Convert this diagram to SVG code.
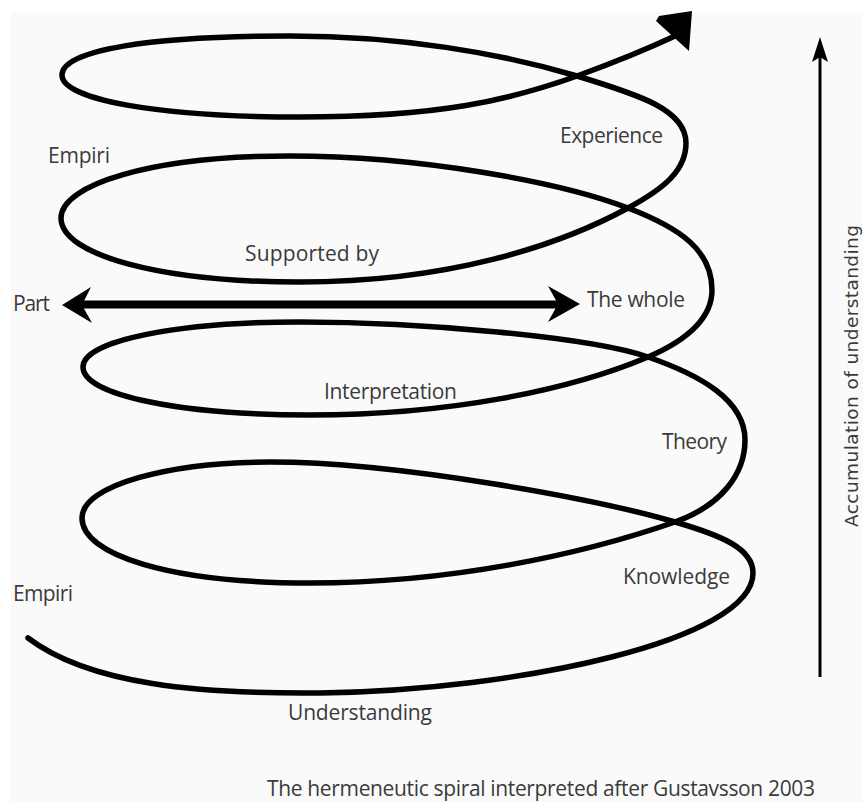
<svg xmlns="http://www.w3.org/2000/svg" width="863" height="802" viewBox="0 0 863 802">
  <style>
    .lbl { font-family: "Open Sans", "Noto Sans", "DejaVu Sans", sans-serif; font-size: 21px; fill: #3a3a3a; }
    .vlbl { font-family: "DejaVu Sans", "Noto Sans", sans-serif; font-size: 18.5px; fill: #3a3a3a; }
    .spiral { fill: none; stroke: #000; stroke-width: 5.5; stroke-linecap: round; stroke-linejoin: round; }
    .shaft { fill: none; stroke: #000; stroke-width: 8; }
    .vshaft { fill: none; stroke: #000; stroke-width: 3; }
    .head { fill: #000; stroke: none; }
  </style>
  <rect x="0" y="0" width="863" height="802" fill="#ffffff"/>
  <rect x="11" y="12" width="852" height="790" fill="#fafafa"/>

  <g id="connectors">
    <path id="spiral" class="spiral" d="M 28 638
      C 90 685, 200 694, 320 693
      C 520 690, 753 640, 753 573
      C 753 548, 720 535, 675 522
      C 600 500, 400 462, 270 462
      C 170 462, 82 485, 82 518
      C 82 555, 170 583, 310 583
      C 450 583, 580 555, 675 522
      C 720 506, 745 475, 745 440
      C 745 400, 700 375, 648 357
      C 590 337, 420 322, 300 322
      C 180 322, 83 340, 83 367
      C 83 395, 180 415, 310 415
      C 450 415, 570 390, 648 357
      C 685 341, 712 320, 712 290
      C 712 250, 680 228, 628 208
      C 560 182, 420 156, 290 156
      C 150 156, 61 185, 61 218
      C 61 255, 160 282, 300 282
      C 450 282, 560 245, 628 208
      C 665 188, 686 170, 686 143
      C 686 110, 640 95, 577 76
      C 500 53, 400 36, 290 36
      C 150 36, 62 50, 62 75
      C 62 100, 160 117, 300 117
      C 440 117, 510 100, 577 76
      C 610 64, 645 50, 675 36"/>
    <polygon id="spiral-head" class="head" points="656,21 659,16 692,11 689,51"/>

    <g id="part-whole-arrow">
      <line class="shaft" x1="80" y1="304.5" x2="560" y2="304.5"/>
      <polygon class="head" points="62,305 91,287 82,305 92,323"/>
      <polygon class="head" points="580,304 548,286 558,304 548,322"/>
    </g>

    <g id="accumulation-arrow">
      <line class="vshaft" x1="820" y1="55" x2="820" y2="677"/>
      <polygon class="head" points="820,37 828,62 820,57 812,62"/>
    </g>
  </g>

  <g id="label-empiri-top"><text class="lbl" x="48" y="163" textLength="62">Empiri</text></g>
  <g id="label-experience"><text class="lbl" x="560" y="143" textLength="103">Experience</text></g>
  <g id="label-supported-by"><text class="lbl" x="245" y="261" textLength="134">Supported by</text></g>
  <g id="label-part"><text class="lbl" x="13" y="311" textLength="37">Part</text></g>
  <g id="label-the-whole"><text class="lbl" x="587" y="307" textLength="98">The whole</text></g>
  <g id="label-interpretation"><text class="lbl" x="324" y="399" textLength="133">Interpretation</text></g>
  <g id="label-theory"><text class="lbl" x="662" y="449" textLength="65">Theory</text></g>
  <g id="label-empiri-bottom"><text class="lbl" x="13" y="601" textLength="60">Empiri</text></g>
  <g id="label-knowledge"><text class="lbl" x="623" y="584" textLength="107">Knowledge</text></g>
  <g id="label-understanding"><text class="lbl" x="288" y="720" textLength="144">Understanding</text></g>
  <g id="label-accumulation"><text class="vlbl" transform="translate(858,527) rotate(-90)" textLength="302">Accumulation of understanding</text></g>
  <g id="caption"><text class="lbl" x="267" y="796" textLength="548">The hermeneutic spiral interpreted after Gustavsson 2003</text></g>
</svg>
